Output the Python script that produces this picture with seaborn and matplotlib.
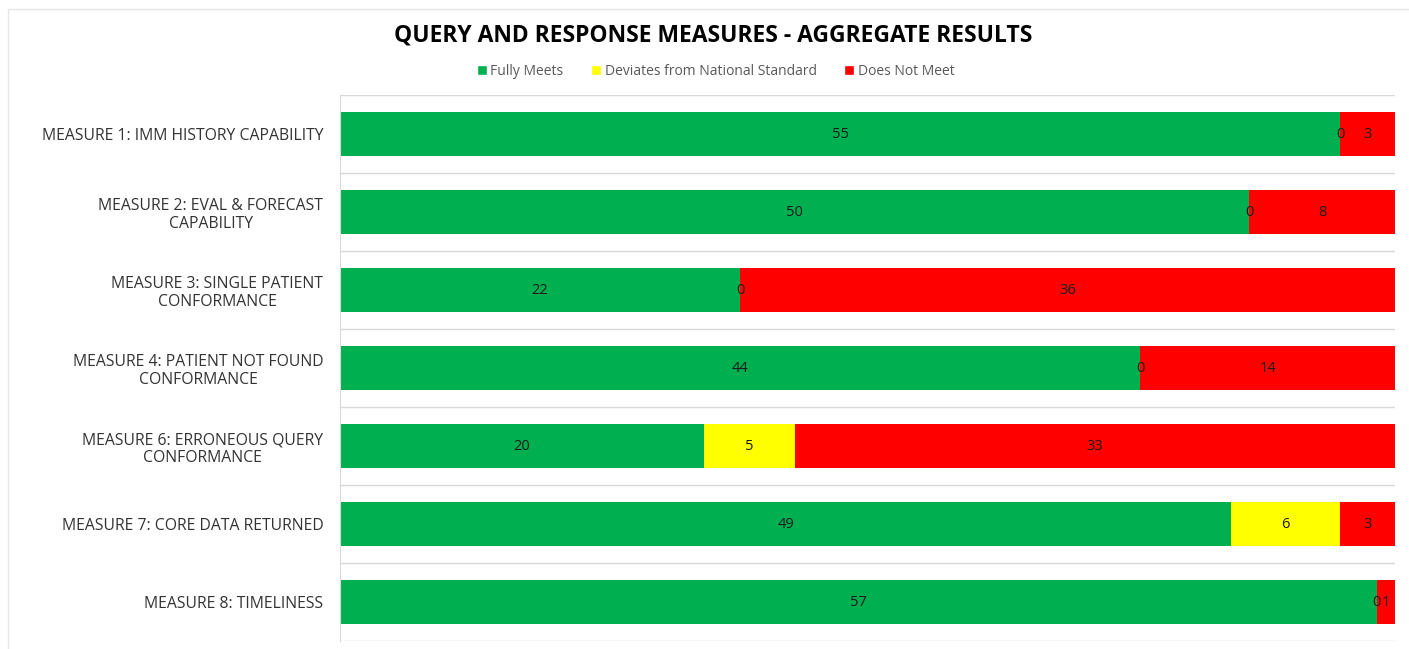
import numpy as np
import pandas as pd
import matplotlib
matplotlib.use("Agg")
import matplotlib.pyplot as plt
import seaborn as sns
from matplotlib.patches import Patch, Rectangle

measures = [
    "MEASURE 1: IMM HISTORY CAPABILITY",
    "MEASURE 2: EVAL & FORECAST\nCAPABILITY",
    "MEASURE 3: SINGLE PATIENT\nCONFORMANCE",
    "MEASURE 4: PATIENT NOT FOUND\nCONFORMANCE",
    "MEASURE 6: ERRONEOUS QUERY\nCONFORMANCE",
    "MEASURE 7: CORE DATA RETURNED",
    "MEASURE 8: TIMELINESS",
]
fully_meets = [55, 50, 22, 44, 20, 49, 57]
deviates = [0, 0, 0, 0, 5, 6, 0]
does_not_meet = [3, 8, 36, 14, 33, 3, 1]

series_names = ["Fully Meets", "Deviates from National Standard", "Does Not Meet"]
series_colors = ["#00B050", "#FFFF00", "#FF0000"]

sns.set_style("white")
plt.rcParams["font.family"] = ["Open Sans", "DejaVu Sans"]

df = pd.DataFrame({
    "measure": measures,
    "green": fully_meets,
    "yellow": deviates,
    "red": does_not_meet,
})
df["cum_green"] = df["green"]
df["cum_yellow"] = df["green"] + df["yellow"]
df["cum_red"] = df["cum_yellow"] + df["red"]

fig = plt.figure(figsize=(14.09, 6.49), dpi=100)

# light chart-area border
fig.patches.append(Rectangle((8 / 1409, -0.01), 1.0, 1 - 9 / 649 + 0.01,
                             transform=fig.transFigure, fill=False,
                             edgecolor="#e6e6e6", lw=1, zorder=0))

ax = fig.add_axes([0.2413, 0.0123, 0.7487, 0.8413])

# stacked bars drawn as cumulative totals, back to front
for col, color in [("cum_red", series_colors[2]),
                   ("cum_yellow", series_colors[1]),
                   ("cum_green", series_colors[0])]:
    sns.barplot(data=df, x=col, y="measure", orient="h", color=color,
                saturation=1, width=0.56, ax=ax, edgecolor="none")

# data labels, centered in each segment
starts = np.zeros(len(df))
for vals in [fully_meets, deviates, does_not_meet]:
    vals = np.array(vals)
    for i, v in enumerate(vals):
        ax.text(starts[i] + v / 2, i, str(v), ha="center", va="center",
                fontsize=10.5, color="#1a1a1a")
    starts = starts + vals

ax.set_xlim(0, df["cum_red"].max())
ax.set_ylim(len(df) - 0.5, -0.5)
ax.set_xlabel("")
ax.set_ylabel("")
ax.set_xticks([])
ax.tick_params(axis="y", length=0, pad=12, labelsize=11.3, labelcolor="#333333")
for lbl in ax.get_yticklabels():
    lbl.set_multialignment("center")

# row separators
for b in np.arange(len(df) + 1) - 0.5:
    ax.axhline(b, color="#d9d9d9", lw=1, zorder=0)
for s in ["top", "right", "bottom"]:
    ax.spines[s].set_visible(False)
ax.spines["left"].set_color("#d9d9d9")

fig.text(0.506, 0.945, "QUERY AND RESPONSE MEASURES - AGGREGATE RESULTS",
         ha="center", va="center", fontsize=16.5, fontweight="bold", color="black")

handles = [Patch(facecolor=c, label=n) for n, c in zip(series_names, series_colors)]
leg = fig.legend(handles=handles, loc="center", bbox_to_anchor=(0.508, 0.89),
                 ncol=3, frameon=False, fontsize=10, handlelength=0.7,
                 handleheight=0.7, handletextpad=0.25, columnspacing=2.0)
for t in leg.get_texts():
    t.set_color("#595959")

fig.savefig("out.png", dpi=100)
